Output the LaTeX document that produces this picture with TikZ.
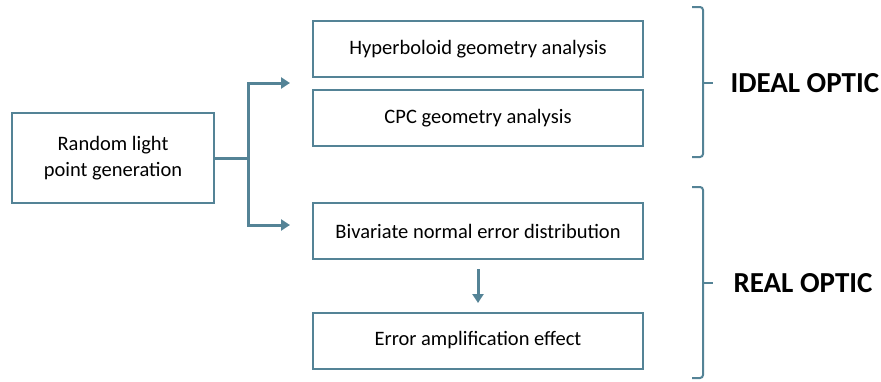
\documentclass[tikz,border=0pt]{standalone}
\usepackage{fontspec}
\setmainfont{Carlito}
\usetikzlibrary{arrows.meta}
\definecolor{teal}{RGB}{84,131,150}
\tikzset{
  box/.style={draw=teal, line width=2pt, minimum height=56pt, align=center, font=\fontsize{20.5}{26}\selectfont, inner sep=0pt},
  conn/.style={draw=teal, line width=3pt, -{Triangle[length=9pt,width=11pt]}},
  brace/.style={draw=teal, line width=2pt, rounded corners=3pt},
  lbl/.style={font=\fontsize{29}{33}\selectfont\bfseries, anchor=west}
}
\begin{document}
\begin{tikzpicture}[x=1pt,y=-1pt]
\useasboundingbox (0,0) rectangle (881,381);
\node[box, minimum width=202pt, minimum height=90pt] (rand) at (113,158) {Random light\\point generation};
\node[box, minimum width=330pt] (hyp) at (478,49) {Hyperboloid geometry analysis};
\node[box, minimum width=330pt] (cpc) at (478,118) {CPC geometry analysis};
\node[box, minimum width=330pt] (biv) at (478,231) {Bivariate normal error distribution};
\node[box, minimum width=330pt] (err) at (478,340.5) {Error amplification effect};
\coordinate (j) at (248,158);
\coordinate (t1) at (290,83);
\coordinate (t2) at (290,225);
\draw[draw=teal, line width=3pt] (rand.east) -- (j);
\draw[conn] (j) |- (t1);
\draw[conn] (j) |- (t2);
\coordinate (a1) at (478,269);
\coordinate (a2) at (478,303);
\draw[conn] (a1) -- (a2);
% braces
\draw[brace] (692,7) -- (703,7) -- (703,157) -- (692,157);
\draw[draw=teal, line width=2pt] (703,83) -- (713,83);
\draw[brace] (692,187) -- (703,187) -- (703,378) -- (692,378);
\draw[draw=teal, line width=2pt] (703,283) -- (713,283);
\node[lbl] (ideal) at (727,83) {IDEAL OPTIC};
\node[lbl] (real) at (730,283) {REAL OPTIC};
\end{tikzpicture}
\end{document}
